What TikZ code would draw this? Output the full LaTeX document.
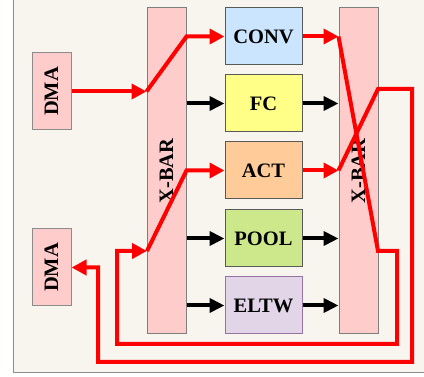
\documentclass[tikz,border=0pt]{standalone}
\usepackage{fontspec}
\setmainfont{Liberation Serif}
\usepackage{graphicx}
\usetikzlibrary{positioning}
\usetikzlibrary{arrows.meta}
\definecolor{bgcream}{HTML}{F8F5EE}
\definecolor{framegray}{HTML}{8C8C8C}
\definecolor{barpink}{HTML}{FFCCCC}
\definecolor{convblue}{HTML}{CCE5FF}
\definecolor{fcyellow}{HTML}{FFFF88}
\definecolor{actorange}{HTML}{FFCC99}
\definecolor{poolgreen}{HTML}{CDE88B}
\definecolor{eltwpurple}{HTML}{E1D5E7}
\definecolor{eltwborder}{HTML}{9673A6}
\tikzset {
  % labels of all boxes
  lbl/.style={font=\bfseries\fontsize{20.5}{24}\selectfont, text=black, inner sep=0pt},
  % DMA engines and crossbars
  dmabox/.style={lbl, draw=framegray, fill=barpink, line width=1pt,
    minimum width=39pt, minimum height=77pt},
  xbar/.style={lbl, draw=framegray!90!black, fill=barpink, line width=1pt,
    minimum width=39pt, minimum height=326pt},
  % compute units
  op/.style={lbl, draw=black!65, line width=1pt,
    minimum width=77pt, minimum height=57pt},
  % data paths
  redarrow/.style={red, line width=4pt, -{Triangle[length=15pt, width=15pt]}},
  redwire/.style={red, line width=4pt},
  blackarrow/.style={black, line width=4pt, -{Triangle[length=15pt, width=14pt]}},
}
\begin{document}
\begin{tikzpicture}[x=1pt, y=-1pt]

        \useasboundingbox (0,0) rectangle (424,377);
        \fill[bgcream] (13,-2) rectangle (426,373);
        \draw[framegray, line width=1pt] (13,-2) -- (13,373) -- (426,373);

        \node[dmabox] (dma1) at (51.5,91.5) {\rotatebox{90}{DMA}};
        \node[dmabox] (dma2) at (51.5,267.5) {\rotatebox{90}{DMA}};
        \node[xbar] (xbarL) at (166.5,171) {\rotatebox{90}{X-BAR}};
        \node[xbar] (xbarR) at (358.5,171) {\rotatebox{90}{X-BAR}};

        \node[op, fill=convblue] (conv) at (263.5,36.5) {CONV};
        \node[op, fill=fcyellow] (fc) at (263.5,103.5) {FC};
        \node[op, fill=actorange] (act) at (263.5,170.5) {ACT};
        \node[op, fill=poolgreen] (pool) at (263.5,238.5) {POOL};
        \node[op, fill=eltwpurple, draw=eltwborder] (eltw) at (263.5,305.5) {ELTW};

        \foreach \m in {fc, pool, eltw} {
          \draw[blackarrow] (xbarL.east |- \m.west) -- (\m.west);
          \draw[blackarrow] (\m.east) -- (\m.east -| xbarR.west);
        }

        % return paths round the crossbars
        \coordinate (inL) at (147,251);
        \coordinate (c1) at (378,251);
        \coordinate (c2) at (397,251);
        \coordinate (c3) at (397,344);
        \coordinate (c4) at (117,344);
        \coordinate (c5) at (117,251);
        \coordinate (d1) at (378,89);
        \coordinate (d2) at (412,89);
        \coordinate (d3) at (412,362);
        \coordinate (d4) at (98,362);
        \coordinate (d5) at (98,267.5);

        \draw[redarrow] (dma1.east) -- (dma1.east -| xbarL.west);
        \draw[redarrow] (dma1.east -| xbarL.west) -- (xbarL.east |- conv.west) -- (conv.west);
        \draw[redarrow] (conv.east) -- (conv.east -| xbarR.west);
        \draw[redarrow] (conv.east -| xbarR.west) -- (c1) -- (c2) -- (c3) -- (c4) -- (c5) -- (inL);
        \draw[redarrow] (inL) -- (xbarL.east |- act.west) -- (act.west);
        \draw[redarrow] (act.east) -- (act.east -| xbarR.west);
        \draw[redarrow] (act.east -| xbarR.west) -- (d1) -- (d2) -- (d3) -- (d4) -- (d5) -- (dma2.east);

\end{tikzpicture}
\end{document}
